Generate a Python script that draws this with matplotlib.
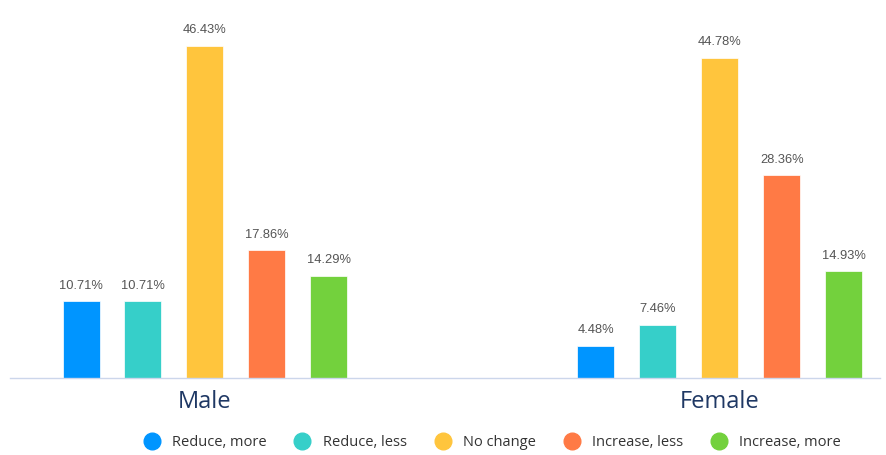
import matplotlib
matplotlib.use("Agg")
import matplotlib.pyplot as plt
from matplotlib.lines import Line2D

groups = ["Male", "Female"]
series = ["Reduce, more", "Reduce, less", "No change", "Increase, less", "Increase, more"]
values = {
    "Male":   [10.71, 10.71, 46.43, 17.86, 14.29],
    "Female": [4.48, 7.46, 44.78, 28.36, 14.93],
}
colors = ["#0095ff", "#36cfc9", "#ffc53d", "#ff7a45", "#73d13d"]

W, H = 887, 455
fig = plt.figure(figsize=(W / 100, H / 100), dpi=100)
ax_left, ax_right, ax_top, ax_base = 10, 880, 10, 378
ax = fig.add_axes([ax_left / W, (H - ax_base) / H, (ax_right - ax_left) / W, (ax_base - ax_top) / H])

ppu = 515.0
offset = 62 / ppu
width = 37 / ppu
for gi, g in enumerate(groups):
    for si, s in enumerate(series):
        x = gi + (si - 2) * offset
        v = values[g][si]
        ax.bar(x, v, width=width, color=colors[si], edgecolor="white", linewidth=0.5, zorder=2)
        ax.annotate(f"{v:.2f}%", (x, v), xytext=(0, 7), textcoords="offset points",
                    ha="center", va="bottom", fontsize=9.3, color="#555555",
                    family=["Liberation Sans", "DejaVu Sans"])

ax.set_xlim((ax_left - 205) / ppu, (ax_right - 205) / ppu)
ax.set_ylim(0, (ax_base - ax_top) / 7.15)
ax.set_xticks(range(len(groups)))
ax.set_xticklabels(groups, fontsize=17, color="#1f3864", family=["Open Sans", "DejaVu Sans"])
ax.tick_params(axis="x", length=0, pad=9)
ax.set_yticks([])
for sp in ["top", "right", "left"]:
    ax.spines[sp].set_visible(False)
ax.spines["bottom"].set_color("#ccd6eb")
ax.spines["bottom"].set_linewidth(1)

handles = [Line2D([0], [0], marker="o", linestyle="", markersize=12,
                  markerfacecolor=c, markeredgecolor=c) for c in colors]
fig.legend(handles, series, loc="center", bbox_to_anchor=(489 / W, 1 - 443 / H), ncol=5,
           frameon=False, handletextpad=0.4, columnspacing=1.45,
           prop={"family": ["Open Sans", "DejaVu Sans"], "size": 10.5}, labelcolor="#333333")

fig.savefig("out.png", dpi=100)
